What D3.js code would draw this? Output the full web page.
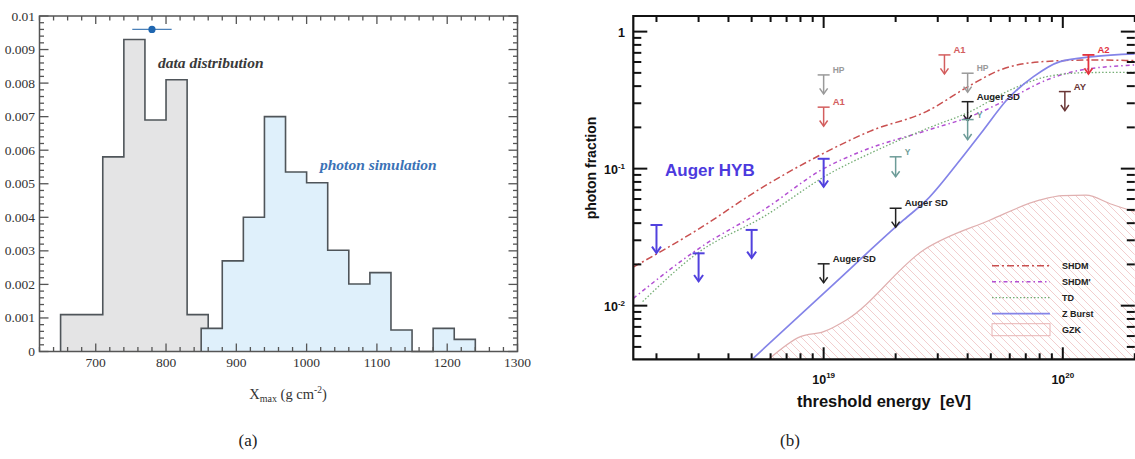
<!DOCTYPE html>
<html><head><meta charset="utf-8">
<script src="https://cdn.jsdelivr.net/npm/d3@7"></script>
<style>body{margin:0;background:#fff} svg{display:block}</style>
</head><body><svg id="c" width="1135" height="459"></svg>
<script>
// ================= Panel (a) data =================
const binWidthA = 30;
const dataBinStarts = [650,680,710,740,770,800,830];
const dataValues = [0.0011,0.0011,0.0058,0.0093,0.0069,0.0081,0.0011];
const photonBinStarts = [850,880,910,940,970,1000,1030,1060,1090,1120,1150,1180,1210];
const photonValues = [0.00069,0.0027,0.0040,0.0070,0.00535,0.00503,0.00302,0.00201,0.00235,0.00064,0,0.00069,0.00036];
const meanX = [780], meanErr = [28], meanY = [0.0096];
const xTicksA = [700,800,900,1000,1100,1200,1300];
const yTicksA = [0,0.001,0.002,0.003,0.004,0.005,0.006,0.007,0.008,0.009,0.01];
const yTickLabelsA = ["0","0.001","0.002","0.003","0.004","0.005","0.006","0.007","0.008","0.009","0.01"];

// ================= Panel (b) data =================
const shdmE  = [1.6e18,2.96e18,5.61e18,1e19,1.567e19,2.7e19,4.1e19,5.47e19,8.3e19,1.34e20,2e20];
const shdmF  = [0.0191,0.0357,0.0739,0.1295,0.188,0.262,0.405,0.525,0.604,0.621,0.614];
const shdmpE = [1.6e18,3.16e18,5.61e18,1e19,1.42e19,2.7e19,4.1e19,6.03e19,8.57e19,1.107e20,2e20];
const shdmpF = [0.0113,0.0277,0.050,0.100,0.1325,0.19,0.240,0.327,0.444,0.511,0.571];
const tdE    = [1.75e18,2.96e18,5.61e18,1.066e19,1.567e19,2.7e19,4.1e19,6.03e19,8.57e19,1.26e20,2e20];
const tdF    = [0.0107,0.0241,0.0446,0.0926,0.1295,0.196,0.261,0.375,0.469,0.502,0.505];
const zbE    = [5.02e18,1.04e19,2.16e19,2.7e19,3.72e19,4.66e19,5.83e19,7.54e19,9.74e19,1.34e20,2e20];
const zbF    = [0.00406,0.0131,0.0422,0.0591,0.1157,0.1916,0.317,0.469,0.604,0.657,0.687];
const gzkE   = [5.89e18,8.0e18,1e19,1.25e19,2.62e19,4.97e19,8.04e19,1.0e20,1.25e20,1.6e20,2e20];
const gzkF   = [0.00406,0.00594,0.00646,0.0079,0.0255,0.0422,0.0591,0.0635,0.064,0.055,0.0485];

const hybE = [2e18,3e18,5e18,1e19], hybF = [0.0388,0.0241,0.0357,0.118];
const sdE  = [1e19,2e19,4e19],       sdF  = [0.0202,0.0514,0.308];
const hpE  = [1e19,4e19],            hpF  = [0.483,0.497];
const a1E  = [1e19,3.2e19],          a1F  = [0.281,0.676];
const a2E  = [1.28e20],              a2F  = [0.676];
const ayE  = [1.02e20],              ayF  = [0.365];
const yE   = [2e19,4e19],            yF   = [0.122,0.228];

const xTicksB = [1e19,1e20], xTickExpB = ["19","20"];
const yTicksB = [1,0.1,0.01], yTickExpB = [null,"-1","-2"];
const legendNames = ["SHDM","SHDM'","TD","Z Burst","GZK"];

// ================= Drawing =================
const svg = d3.select("#c");
const serif = "'Liberation Serif','DejaVu Serif',serif";
const sans = "'Liberation Sans',Arial,sans-serif";

// ---------- Panel (a) ----------
const xA = d3.scaleLinear().domain([620,1300]).range([39.5,517.5]);
const yA = d3.scaleLinear().domain([0,0.01]).range([351.5,16]);
const axA = "#555";
const gA = svg.append("g");

function histPoints(starts, vals, w){
  const pts = [[starts[0],0]];
  starts.forEach((s,i)=>pts.push([s, vals[i]]));
  pts.push([starts[starts.length-1]+w, 0]);
  return pts;
}
const stepLine = d3.line().x(d=>xA(d[0])).y(d=>yA(d[1])).curve(d3.curveStepAfter);

gA.append("path").attr("d", stepLine(histPoints(dataBinStarts,dataValues,binWidthA)))
  .attr("fill","#e4e4e5").attr("stroke","#4f555a").attr("stroke-width",1.6);
gA.append("path").attr("d", stepLine(histPoints(photonBinStarts,photonValues,binWidthA)))
  .attr("fill","#dff0fb").attr("stroke","#4f555a").attr("stroke-width",1.6);

gA.append("rect").attr("x",xA(620)).attr("y",yA(0.01)).attr("width",xA(1300)-xA(620)).attr("height",yA(0)-yA(0.01))
  .attr("fill","none").attr("stroke",axA).attr("stroke-width",1.5);
d3.range(620,1301,20).forEach(v=>{
  const major = v%100===0, L = major?8:4.5;
  gA.append("line").attr("x1",xA(v)).attr("x2",xA(v)).attr("y1",yA(0)).attr("y2",yA(0)-L).attr("stroke",axA).attr("stroke-width",1.3);
  gA.append("line").attr("x1",xA(v)).attr("x2",xA(v)).attr("y1",yA(0.01)).attr("y2",yA(0.01)+L).attr("stroke",axA).attr("stroke-width",1.3);
});
d3.range(0,51,1).forEach(k=>{
  const v = k*0.0002, major = k%5===0, L = major?9:4.5;
  gA.append("line").attr("x1",xA(620)).attr("x2",xA(620)+L).attr("y1",yA(v)).attr("y2",yA(v)).attr("stroke",axA).attr("stroke-width",1.3);
  gA.append("line").attr("x1",xA(1300)).attr("x2",xA(1300)-L).attr("y1",yA(v)).attr("y2",yA(v)).attr("stroke",axA).attr("stroke-width",1.3);
});
xTicksA.forEach(v=>gA.append("text").attr("x",xA(v)).attr("y",367).attr("text-anchor","middle")
  .attr("font-family",serif).attr("font-size",13.5).attr("fill","#333").text(v));
yTicksA.forEach((v,i)=>gA.append("text").attr("x",35).attr("y",yA(v)+4.5).attr("text-anchor","end")
  .attr("font-family",serif).attr("font-size",13.5).attr("fill","#333").text(yTickLabelsA[i]));

meanX.forEach((m,i)=>{
  gA.append("line").attr("x1",xA(m-meanErr[i])).attr("x2",xA(m+meanErr[i])).attr("y1",yA(meanY[i])).attr("y2",yA(meanY[i]))
    .attr("stroke","#4a80b8").attr("stroke-width",1.4);
  gA.append("circle").attr("cx",xA(m)).attr("cy",yA(meanY[i])).attr("r",3.6).attr("fill","#1f66b0");
});
gA.append("text").attr("x",158).attr("y",68).attr("font-family",serif).attr("font-size",15.5)
  .attr("font-weight","bold").attr("font-style","italic").attr("fill","#3a3a3a").text("data distribution");
gA.append("text").attr("x",320).attr("y",170).attr("font-family",serif).attr("font-size",15.5)
  .attr("font-weight","bold").attr("font-style","italic").attr("fill","#3b72b6").text("photon simulation");
const xl = gA.append("text").attr("x",288).attr("y",399).attr("text-anchor","middle").attr("font-family",serif).attr("font-size",14.5).attr("fill","#333");
xl.append("tspan").text("X");
xl.append("tspan").attr("font-size",10).attr("dy",3).text("max");
xl.append("tspan").attr("dy",-3).text(" (g cm");
xl.append("tspan").attr("font-size",9.5).attr("dy",-6).text("-2");
xl.append("tspan").attr("dy",6).text(")");
svg.append("text").attr("x",248).attr("y",446).attr("text-anchor","middle").attr("font-family",serif).attr("font-size",17).attr("fill","#222").text("(a)");
svg.append("text").attr("x",790).attr("y",446).attr("text-anchor","middle").attr("font-family",serif).attr("font-size",17).attr("fill","#222").text("(b)");

// ---------- Panel (b) ----------
const xB = d3.scaleLog().domain([1.6e18,2e20]).range([633.3,1134.8]);
const yB = d3.scaleLog().domain([0.00406,1.3]).range([359.3,16]);
const gB = svg.append("g");
const defs = svg.append("defs");
defs.append("clipPath").attr("id","clipB").append("rect")
  .attr("x",xB.range()[0]).attr("y",yB.range()[1]).attr("width",xB.range()[1]-xB.range()[0]).attr("height",yB.range()[0]-yB.range()[1]);
const pat = defs.append("pattern").attr("id","hatch").attr("patternUnits","userSpaceOnUse").attr("width",8).attr("height",8);
pat.append("path").attr("d","M-1,-1 L9,9 M-9,-1 L1,9 M7,-1 L17,9").attr("stroke","#f0c8c8").attr("stroke-width",0.9);

const plotB = gB.append("g").attr("clip-path","url(#clipB)");
const zip = (E,F)=>E.map((e,i)=>[e,F[i]]);
const lineB = d3.line().x(d=>xB(d[0])).y(d=>yB(d[1])).curve(d3.curveMonotoneX);
const areaB = d3.area().x(d=>xB(d[0])).y0(yB.range()[0]).y1(d=>yB(d[1])).curve(d3.curveMonotoneX);

plotB.append("path").attr("d",areaB(zip(gzkE,gzkF))).attr("fill","url(#hatch)").attr("stroke","none");
plotB.append("path").attr("d",lineB(zip(gzkE,gzkF))).attr("fill","none").attr("stroke","#e0b0b0").attr("stroke-width",1.2);

const styles = [
  {c:"#c95050", w:1.5, dash:"7,3,2,3"},
  {c:"#b24fd2", w:1.5, dash:"4,3,1.5,3"},
  {c:"#74ad74", w:1.3, dash:"1.5,2"},
  {c:"#8484e8", w:1.7, dash:null}
];
[zip(shdmE,shdmF), zip(shdmpE,shdmpF), zip(tdE,tdF), zip(zbE,zbF)].forEach((d,i)=>{
  plotB.append("path").attr("d",lineB(d)).attr("fill","none").attr("stroke",styles[i].c)
    .attr("stroke-width",styles[i].w).attr("stroke-dasharray",styles[i].dash);
});

function arrows(E,F,opt){
  E.forEach((e,i)=>{
    const x = xB(e), y = yB(F[i]), t = y+opt.len;
    const g = gB.append("g").attr("stroke",opt.c).attr("stroke-width",opt.w).attr("fill","none");
    g.append("line").attr("x1",x-opt.bar).attr("x2",x+opt.bar).attr("y1",y).attr("y2",y);
    g.append("line").attr("x1",x).attr("x2",x).attr("y1",y).attr("y2",t);
    g.append("path").attr("d",`M${x-opt.head},${t-opt.head*1.4} L${x},${t} L${x+opt.head},${t-opt.head*1.4}`);
    if(opt.label){
      gB.append("text").attr("x",x+9).attr("y",y-2).attr("font-family",sans).attr("font-weight","bold")
        .attr("font-size",opt.fs).attr("fill",opt.c).text(opt.label);
    }
  });
}
arrows(hybE,hybF,{c:"#5141de",w:2,len:28,bar:6,head:4.5,label:null});
arrows(sdE,sdF,{c:"#222",w:1.5,len:19,bar:6,head:4,label:"Auger SD",fs:9.5});
arrows(hpE,hpF,{c:"#9a9a9a",w:1.5,len:19,bar:6,head:4,label:"HP",fs:8.5});
arrows(a1E,a1F,{c:"#d35e5e",w:1.5,len:19,bar:6,head:4,label:"A1",fs:9.5});
arrows(a2E,a2F,{c:"#e2333f",w:1.8,len:19,bar:6,head:4,label:"A2",fs:9.5});
arrows(ayE,ayF,{c:"#6a3636",w:1.5,len:19,bar:6,head:4,label:"AY",fs:9.5});
arrows(yE,yF,{c:"#6d9c98",w:1.5,len:20,bar:6,head:4,label:"Y",fs:8.5});

gB.append("text").attr("x",665).attr("y",176).attr("font-family",sans).attr("font-weight","bold")
  .attr("font-size",17).attr("fill","#4c3ade").text("Auger HYB");

const [xl0,xr0] = xB.range(), [yb0,yt0] = yB.range();
gB.append("path").attr("d",`M${xr0+1},${yt0} L${xl0},${yt0} L${xl0},${yb0} L${xr0+1},${yb0}`)
  .attr("fill","none").attr("stroke","#111").attr("stroke-width",2.2);
xB.ticks().forEach(v=>{
  const major = xTicksB.includes(v), L = major?12:6;
  gB.append("line").attr("x1",xB(v)).attr("x2",xB(v)).attr("y1",yb0).attr("y2",yb0-L).attr("stroke","#111").attr("stroke-width",2);
  gB.append("line").attr("x1",xB(v)).attr("x2",xB(v)).attr("y1",yt0).attr("y2",yt0+L).attr("stroke","#111").attr("stroke-width",2);
});
yB.ticks().forEach(v=>{
  const major = yTicksB.some(t=>Math.abs(t-v)/t<1e-6), L = major?14:8;
  gB.append("line").attr("x1",xl0).attr("x2",xl0+L).attr("y1",yB(v)).attr("y2",yB(v)).attr("stroke","#111").attr("stroke-width",2);
  gB.append("line").attr("x1",xr0).attr("x2",xr0-L).attr("y1",yB(v)).attr("y2",yB(v)).attr("stroke","#111").attr("stroke-width",2);
});
xTicksB.forEach((v,i)=>{
  const t = gB.append("text").attr("x",xB(v)).attr("y",384).attr("text-anchor","middle").attr("font-family",sans)
    .attr("font-weight","bold").attr("font-size",12.5).attr("fill","#111");
  t.append("tspan").text("10");
  t.append("tspan").attr("font-size",8).attr("dy",-6).text(xTickExpB[i]);
});
yTicksB.forEach((v,i)=>{
  const t = gB.append("text").attr("x",625).attr("y",yB(v)+5).attr("text-anchor","end").attr("font-family",sans)
    .attr("font-weight","bold").attr("font-size",12.5).attr("fill","#111");
  if(yTickExpB[i]===null){ t.text("1"); }
  else { t.append("tspan").text("10"); t.append("tspan").attr("font-size",8).attr("dy",-5).text(yTickExpB[i]); }
});
gB.append("text").attr("transform","translate(596,168) rotate(-90)").attr("text-anchor","middle").attr("font-family",sans)
  .attr("font-weight","bold").attr("font-size",14).attr("fill","#111").text("photon fraction");
gB.append("text").attr("x",884).attr("y",407).attr("text-anchor","middle").attr("font-family",sans)
  .attr("font-weight","bold").attr("font-size",16.5).attr("fill","#111").attr("xml:space","preserve").text("threshold energy  [eV]");

const legY0 = 265.7, legDy = 16, legX0 = 992, legX1 = 1050;
legendNames.forEach((n,i)=>{
  const y = legY0 + i*legDy;
  if(i<4){
    gB.append("line").attr("x1",legX0).attr("x2",legX1).attr("y1",y).attr("y2",y).attr("stroke",styles[i].c)
      .attr("stroke-width",styles[i].w).attr("stroke-dasharray",styles[i].dash);
  } else {
    gB.append("rect").attr("x",legX0).attr("y",y-6).attr("width",legX1-legX0).attr("height",12)
      .attr("fill","url(#hatch)").attr("stroke","#e8b4b4").attr("stroke-width",1);
  }
  gB.append("text").attr("x",1062).attr("y",y+3.2).attr("font-family",sans).attr("font-weight","bold")
    .attr("font-size",9).attr("fill","#222").text(n);
});
</script></body></html>
